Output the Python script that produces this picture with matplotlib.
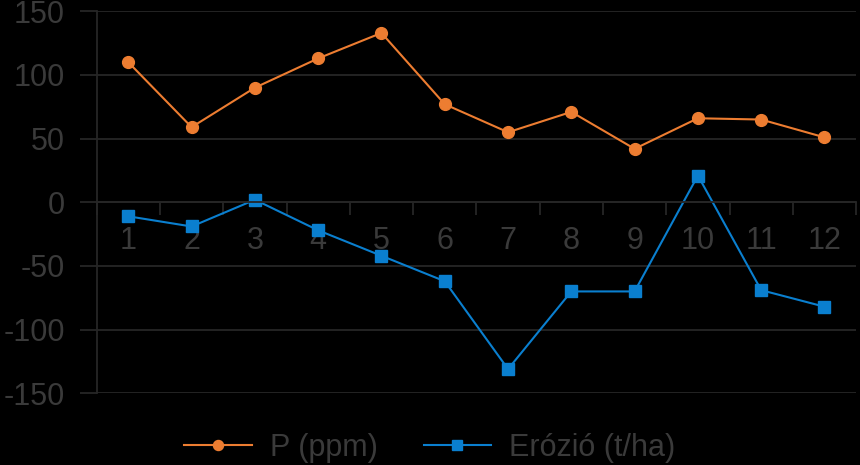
import numpy as np
import matplotlib
matplotlib.use("Agg")
import matplotlib.pyplot as plt
from matplotlib.ticker import FixedLocator

# adatok
honap = [1, 2, 3, 4, 5, 6, 7, 8, 9, 10, 11, 12]
p_ppm = [110, 59, 90, 113, 133, 77, 55, 71, 42, 66, 65, 51]
erozio = [-11, -19, 2, -22, -42, -62, -131, -70, -70, 21, -69, -82]
tick_labels = [str(h) for h in honap]

szoveg = "#3a3a3a"
racs = "#262626"
narancs = "#ED7D31"
kek = "#0A7FCF"

plt.rcParams['font.family'] = ['Liberation Sans', 'DejaVu Sans']
plt.rcParams['axes.unicode_minus'] = False

fig = plt.figure(figsize=(8.6, 4.65), dpi=100, facecolor="black")
ax = fig.add_axes([0.1124, 0.1542, 0.8831, 0.8215], facecolor="black")

x = np.arange(len(honap))
ax.plot(x, p_ppm, color=narancs, lw=1.5, marker="o", ms=8.5, label="P (ppm)")
ax.plot(x, erozio, color=kek, lw=1.5, marker="s", ms=8.5, label="Erózió (t/ha)")

ax.set_xlim(-0.5, len(honap) - 0.5)
ax.set_ylim(-150, 150)
ax.set_yticks(np.arange(-150, 151, 50))
ax.yaxis.grid(True, color=racs, lw=1.3)

# x tengely a nullánál
ax.spines['bottom'].set_position(('data', 0))
ax.spines['bottom'].set_color(racs)
ax.spines['bottom'].set_linewidth(1.3)
ax.spines['left'].set_color(racs)
ax.spines['left'].set_linewidth(1.3)
ax.spines['top'].set_visible(False)
ax.spines['right'].set_visible(False)

ax.set_xticks(x)
ax.set_xticklabels(tick_labels)
ax.xaxis.set_minor_locator(FixedLocator(np.arange(-0.5, len(honap), 1.0)))
ax.tick_params(axis='x', which='major', length=0, pad=17, labelsize=22, labelcolor=szoveg)
ax.tick_params(axis='x', which='minor', length=9, width=1.3, color=racs, direction='out')
ax.tick_params(axis='y', length=12, width=1.3, color=racs, pad=11, labelsize=22, labelcolor=szoveg)

leg = fig.legend(loc="center", bbox_to_anchor=(0.5, 0.037), ncol=2, frameon=False,
                 fontsize=22, labelcolor=szoveg, handlelength=2.2, handletextpad=0.6,
                 columnspacing=1.5, markerscale=0.85)

fig.savefig("out.png", dpi=100, facecolor="black")
